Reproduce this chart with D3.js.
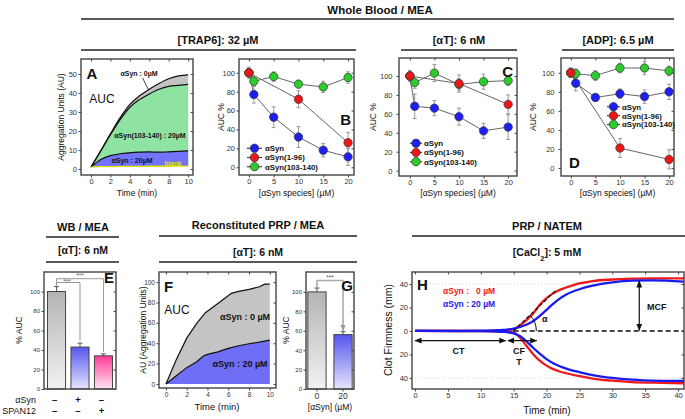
<!DOCTYPE html>
<html><head><meta charset="utf-8">
<script src="https://cdn.jsdelivr.net/npm/d3@7"></script>
<style>body{margin:0;background:#fff}svg{font-family:"Liberation Sans",Arial,Helvetica,sans-serif}</style>
</head><body><svg id="c" width="685" height="419" xmlns="http://www.w3.org/2000/svg"></svg>
<script>
// ---------------- DATA ----------------
// Panel A (Whole blood, TRAP6) aggregation curves
const timeA = [0, 1, 2, 3, 4, 5, 6, 7, 8, 9, 10];
const aSyn0A = [1, 9.5, 18.5, 27, 34, 38.5, 42, 45, 47.5, 49, 49.5];
const aSyn103A = [1, 9.5, 18, 26, 32.5, 36.5, 39.5, 42, 43.5, 44, 44.5];
const aSyn20A = [1, 5, 7, 8, 8.5, 8.8, 9, 8.8, 9, 9.2, 9.5];
const blankA = [1, 1.2, 1.2, 1.3, 1.3, 1.3, 1.4, 1.4, 1.4, 1.5, 1.5];
// Dose-response panels (B, C, D)
const conc = [0, 1, 5, 10, 15, 20];
const concTrunc = [0, 10, 20];
const seriesNames = ["αSyn", "αSyn(1-96)", "αSyn(103-140)"];
const B_aSyn = [100, 77, 53, 32, 18, 11];
const B_aSynErr = [0, 9, 11, 11, 7, 9];
const B_1_96 = [100, 72, 26];
const B_1_96Err = [6, 9, 11];
const B_103 = [100, 91, 96, 88, 85, 95];
const B_103Err = [0, 5, 5, 4, 6, 6];
const C_aSyn = [100, 68, 66, 57, 42, 46];
const C_aSynErr = [0, 13, 8, 9, 8, 13];
const C_1_96 = [100, 92, 70];
const C_1_96Err = [6, 9, 10];
const C_103 = [100, 93, 103, 91, 94, 95];
const C_103Err = [0, 6, 9, 6, 8, 5];
const D_aSyn = [100, 89, 74, 78, 75, 80];
const D_aSynErr = [0, 8, 4, 5, 7, 8];
const D_1_96 = [100, 21, 9];
const D_1_96Err = [5, 10, 10];
const D_103 = [100, 99, 97, 105, 105, 102];
const D_103Err = [5, 5, 5, 5, 7, 5];
// Panel E (WB / MEA bars)
const E_labels = ["ctrl", "aSyn", "SPAN12"];
const E_values = [100, 43, 34];
const E_err = [5, 4, 2];
const E_aSynSign = ["–", "+", "–"];
const E_spanSign = ["–", "–", "+"];
// Panel F (reconstituted PRP curves)
const timeF0 = [0, 1, 2, 3, 3.8, 5, 6.3, 7, 8, 9, 9.5, 10];
const aSyn0F = [0, 24, 45, 60, 70, 79, 89, 91, 93, 95.5, 98, 98];
const timeF20 = [0, 1, 2, 3, 3.6, 4, 5, 6, 7, 8, 9, 10];
const aSyn20F = [0, 8, 16, 22, 27.5, 29, 31.5, 35, 37.5, 39.5, 41, 43];
// Panel G bars
const G_labels = ["0", "20"];
const G_values = [100, 56];
const G_err = [4, 3];
// Panel H (NATEM clot firmness)
const timeH = [0, 10, 12, 13, 14, 15, 16, 17, 18, 19, 20, 21, 22, 23, 25, 27, 30, 33, 36, 41];
const redUpH = [0, 0.1, 0.3, 0.5, 0.8, 1.5, 5, 9.5, 15, 22.5, 28, 32, 35, 37, 40.5, 42.5, 43.8, 44.5, 44.8, 44.8];
const blueUpH = [0, 0.2, 0.5, 0.8, 1.2, 2, 3.5, 5.5, 8.5, 13, 18, 23, 27.5, 31, 35.5, 38.5, 41.3, 42.8, 43, 42];
const redLoH = [0, -0.1, -0.3, -0.5, -0.8, -1.5, -6, -13, -20, -25.5, -29.5, -32.5, -34.5, -36, -38.5, -40.5, -42.3, -43.5, -44, -44.5];
const blueLoH = [0, -0.2, -0.4, -0.7, -1, -2, -4.5, -9, -14.5, -19.5, -24, -27.5, -30, -32, -35, -37.5, -40, -41.5, -42.3, -42.5];

// ---------------- HELPERS ----------------
const svg = d3.select("#c");
const defs = svg.append("defs");
let clipN = 0;
const FRAME = "#444";

defs.append("marker").attr("id", "arr").attr("viewBox", "0 0 10 10").attr("refX", 9).attr("refY", 5)
  .attr("markerWidth", 6).attr("markerHeight", 6).attr("orient", "auto-start-reverse")
  .append("path").attr("d", "M0,1 L10,5 L0,9 z").attr("fill", "#111");
defs.append("marker").attr("id", "arrG").attr("viewBox", "0 0 10 10").attr("refX", 9).attr("refY", 5)
  .attr("markerWidth", 4).attr("markerHeight", 4).attr("orient", "auto-start-reverse")
  .append("path").attr("d", "M0,1 L10,5 L0,9 z").attr("fill", "#999");

function grad(id, top, bottom) {
  const g = defs.append("linearGradient").attr("id", id).attr("x1", 0).attr("y1", 0).attr("x2", 0).attr("y2", 1);
  g.append("stop").attr("offset", "0%").attr("stop-color", top);
  g.append("stop").attr("offset", "100%").attr("stop-color", bottom);
}
grad("gGray", "#b4b4b4", "#f2f2f2");
grad("gBlue", "#5555ee", "#e6e6ff");
grad("gPink", "#ff3a99", "#ffe6f2");

function text(x, y, s, o = {}) {
  const t = svg.append("text").attr("x", x).attr("y", y).text(s)
    .attr("font-size", o.size || 10).attr("fill", o.fill || "#111")
    .attr("text-anchor", o.anchor || "start").attr("xml:space", "preserve");
  if (o.bold) t.attr("font-weight", "bold");
  if (o.rotate) t.attr("transform", `rotate(-90,${x},${y})`);
  return t;
}
function hline(x0, x1, y, w = 1.5) {
  svg.append("line").attr("x1", x0).attr("x2", x1).attr("y1", y).attr("y2", y)
    .attr("stroke", "#222").attr("stroke-width", w);
}
function styleAxis(s, fs) {
  s.select(".domain").remove();
  s.selectAll(".tick line").attr("stroke", FRAME);
  s.selectAll(".tick text").attr("font-size", fs).attr("fill", "#333");
}
function panel(box, xd, yd) {
  const x = d3.scaleLinear().domain(xd).range([box.x0, box.x1]);
  const y = d3.scaleLinear().domain(yd).range([box.y1, box.y0]);
  const id = "clip" + (++clipN);
  defs.append("clipPath").attr("id", id).append("rect")
    .attr("x", box.x0).attr("y", box.y0).attr("width", box.x1 - box.x0).attr("height", box.y1 - box.y0);
  const g = svg.append("g");
  const plot = g.append("g").attr("clip-path", `url(#${id})`);
  return { box, x, y, g, plot };
}
function axes(p, xt, yt, o = {}) {
  const fs = o.fs || 7.5;
  const yp = o.ypad == null ? 1.5 : o.ypad;
  const b = p.box;
  const ag = svg.append("g");
  if (xt) {
    ag.append("g").attr("transform", `translate(0,${b.y1})`)
      .call(d3.axisBottom(p.x).tickValues(xt).tickSize(2.5).tickPadding(1.5).tickFormat(o.xf || d3.format("d")))
      .call(s => styleAxis(s, o.xfs || fs));
    ag.append("g").attr("transform", `translate(0,${b.y0})`)
      .call(d3.axisTop(p.x).tickValues(xt).tickSize(-2.5).tickFormat(""))
      .call(s => styleAxis(s, fs));
  }
  ag.append("g").attr("transform", `translate(${b.x0},0)`)
    .call(d3.axisLeft(p.y).tickValues(yt).tickSize(2.5).tickPadding(yp).tickFormat(o.yf || d3.format("d")))
    .call(s => styleAxis(s, fs));
  ag.append("g").attr("transform", `translate(${b.x1},0)`)
    .call(d3.axisRight(p.y).tickValues(yt).tickSize(-2.5).tickFormat(""))
    .call(s => styleAxis(s, fs));
  ag.append("rect").attr("x", b.x0).attr("y", b.y0).attr("width", b.x1 - b.x0).attr("height", b.y1 - b.y0)
    .attr("fill", "none").attr("stroke", FRAME).attr("stroke-width", 1.4);
}

// ---------------- HEADERS ----------------
text(380, 14, "Whole Blood / MEA", { bold: true, size: 11.5, anchor: "middle" });
hline(81, 674, 19);
text(218, 44, "[TRAP6]: 32 µM", { bold: true, size: 11, anchor: "middle" });
hline(81, 356, 50);
text(459, 44, "[αT]: 6 nM", { bold: true, size: 11, anchor: "middle" });
hline(401, 517, 50);
text(618, 44, "[ADP]: 6.5 µM", { bold: true, size: 11, anchor: "middle" });
hline(562, 674, 50);

text(83, 231, "WB / MEA", { bold: true, size: 11, anchor: "middle" });
hline(46, 119, 237);
text(83, 254, "[αT]: 6 nM", { bold: true, size: 10.5, anchor: "middle" });
hline(46, 119, 262);
text(258, 229, "Reconstituted PRP / MEA", { bold: true, size: 11, anchor: "middle" });
hline(159, 357, 236);
text(258, 256, "[αT]: 6 nM", { bold: true, size: 10.5, anchor: "middle" });
hline(159, 357, 262);
text(547, 230, "PRP / NATEM", { bold: true, size: 11, anchor: "middle" });
hline(412, 685, 236);
const cacl = text(547, 256, "[CaCl", { bold: true, size: 10.5, anchor: "middle" });
cacl.append("tspan").attr("baseline-shift", "sub").attr("font-size", 7.5).text("2");
cacl.append("tspan").text("]: 5 mM");

// ---------------- PANEL A ----------------
{
  const p = panel({ x0: 81, x1: 193, y0: 59, y1: 175 }, [-1.03, 10.5], [-3.2, 57.9]);
  const mk = (arr) => d3.area().x((d, i) => p.x(timeA[i])).y0((d, i) => p.y(blankA[i])).y1(d => p.y(d)).curve(d3.curveMonotoneX)(arr);
  const ln = (arr) => d3.line().x((d, i) => p.x(timeA[i])).y(d => p.y(d)).curve(d3.curveMonotoneX)(arr);
  p.plot.append("path").attr("d", mk(aSyn0A)).attr("fill", "#c3c3c3");
  p.plot.append("path").attr("d", mk(aSyn103A)).attr("fill", "#8fe3a2");
  p.plot.append("path").attr("d", mk(aSyn20A)).attr("fill", "#7272fa");
  [aSyn0A, aSyn103A, aSyn20A].forEach(a => p.plot.append("path").attr("d", ln(a)).attr("fill", "none").attr("stroke", "#111").attr("stroke-width", 1.2));
  p.plot.append("path").attr("d", ln(blankA)).attr("fill", "none").attr("stroke", "#e6e000").attr("stroke-width", 1.3);
  axes(p, [0, 2, 4, 6, 8, 10], [0, 10, 20, 30, 40, 50]);
  text(92, 79, "A", { bold: true, size: 15, anchor: "middle" });
  text(102, 103, "AUC", { size: 12, anchor: "middle" });
  text(139, 75.5, "αSyn : 0µM", { bold: true, size: 7, anchor: "middle" });
  svg.append("line").attr("x1", 142.7).attr("y1", 78).attr("x2", 148.5).attr("y2", 90).attr("stroke", "#111").attr("stroke-width", 0.8);
  text(150, 138, "αSyn(103-140) : 20µM", { bold: true, size: 7, anchor: "middle" });
  text(132, 162.5, "αSyn : 20µM", { bold: true, size: 7, anchor: "middle" });
  text(173, 166, "blank", { bold: true, size: 6.5, anchor: "middle", fill: "#e8e000" });
  text(64, 117, "Aggregation Units (AU)", { size: 8.5, anchor: "middle", rotate: true });
  text(137, 195.5, "Time (min)", { size: 8.5, anchor: "middle" });
}

// ---------------- DOSE-RESPONSE PANELS ----------------
const COLS = { blue: "#1e1ef5", red: "#ee1616", green: "#2bcc2b" };
function doseLine(p, xs, vals, errs) {
  const pts = xs.map((c, i) => [c, vals[i], errs[i]]);
  p.plot.append("path").attr("d", d3.line().x(d => p.x(d[0])).y(d => p.y(d[1]))(pts))
    .attr("fill", "none").attr("stroke", "#666").attr("stroke-width", 1);
  return pts;
}
function doseErr(p, pts) {
  pts.forEach(d => {
    if (!d[2]) return;
    const cx = p.x(d[0]), y0 = p.y(d[1] - d[2]), y1 = p.y(d[1] + d[2]);
    p.plot.append("line").attr("x1", cx).attr("x2", cx).attr("y1", y0).attr("y2", y1).attr("stroke", "#999").attr("stroke-width", 1);
    [y0, y1].forEach(yy => p.plot.append("line").attr("x1", cx - 2).attr("x2", cx + 2).attr("y1", yy).attr("y2", yy).attr("stroke", "#999").attr("stroke-width", 1));
  });
}
function doseDots(p, pts, col) {
  pts.forEach(d => p.plot.append("circle").attr("cx", p.x(d[0])).attr("cy", p.y(d[1])).attr("r", 4.2)
    .attr("fill", col).attr("stroke", "#333").attr("stroke-width", 0.7));
}
function dosePanel(box, yd, data, leg, letter, ypad, titleX) {
  const p = panel(box, [box.xl, box.xr], yd);
  const b = doseLine(p, conc, data[0], data[1]);
  const g = doseLine(p, conc, data[4], data[5]);
  const r = doseLine(p, concTrunc, data[2], data[3]);
  doseErr(p, b); doseErr(p, g); doseErr(p, r);
  doseDots(p, b, COLS.blue); doseDots(p, g, COLS.green); doseDots(p, r, COLS.red);
  axes(p, [0, 5, 10, 15, 20], [0, 20, 40, 60, 80, 100], { ypad });
  const cols = [COLS.blue, COLS.red, COLS.green];
  leg.ys.forEach((yy, i) => {
    svg.append("line").attr("x1", leg.l0).attr("x2", leg.l1).attr("y1", yy).attr("y2", yy).attr("stroke", "#444").attr("stroke-width", 1.2);
    svg.append("circle").attr("cx", (leg.l0 + leg.l1) / 2).attr("cy", yy).attr("r", 4.2).attr("fill", cols[i]).attr("stroke", "#333").attr("stroke-width", 0.7);
    text(leg.tx, yy + 2.8, seriesNames[i], { bold: true, size: 7.8 });
  });
  text(letter.x, letter.y, letter.s, { bold: true, size: 15, anchor: letter.anchor });
  text(titleX, (box.y0 + box.y1) / 2, "AUC %", { size: 8.5, anchor: "middle", rotate: true });
  text((box.x0 + box.x1) / 2, 195.5, "[αSyn species] (µM)", { size: 8.5, anchor: "middle" });
  return p;
}
dosePanel({ x0: 239, x1: 354, y0: 59, y1: 175, xl: -2.0, xr: 21.2 }, [-8.2, 114.6],
  [B_aSyn, B_aSynErr, B_1_96, B_1_96Err, B_103, B_103Err],
  { ys: [148.3, 157.5, 166.7], l0: 247, l1: 262, tx: 265 }, { x: 351, y: 125, s: "B", anchor: "end" }, 1.5, 224);
dosePanel({ x0: 399, x1: 517, y0: 58, y1: 176, xl: -2.2, xr: 21.8 }, [-5.7, 119],
  [C_aSyn, C_aSynErr, C_1_96, C_1_96Err, C_103, C_103Err],
  { ys: [143.3, 152.5, 161.7], l0: 410, l1: 422, tx: 424 }, { x: 513, y: 77, s: "C", anchor: "end" }, 4, 376);
dosePanel({ x0: 561, x1: 674, y0: 58, y1: 176, xl: -2.0, xr: 21.0 }, [-8.4, 115.5],
  [D_aSyn, D_aSynErr, D_1_96, D_1_96Err, D_103, D_103Err],
  { ys: [106.7, 115.7, 124.5], l0: 607, l1: 620, tx: 622 }, { x: 569, y: 168, s: "D", anchor: "start" }, 4, 536);

// ---------------- PANEL E ----------------
{
  const box = { x0: 44, x1: 116, y0: 272, y1: 389 };
  const xb = d3.scaleBand().domain(E_labels).range([box.x0, box.x1]).paddingInner(0.23).paddingOuter(0.15);
  const y = d3.scaleLinear().domain([0, 120]).range([box.y1, box.y0]);
  const fills = ["url(#gGray)", "url(#gBlue)", "url(#gPink)"];
  E_labels.forEach((l, i) => {
    const cx = xb(l) + xb.bandwidth() / 2;
    svg.append("line").attr("x1", cx).attr("x2", cx).attr("y1", y(E_values[i])).attr("y2", y(E_values[i] + E_err[i])).attr("stroke", "#555");
    svg.append("line").attr("x1", cx - 2.5).attr("x2", cx + 2.5).attr("y1", y(E_values[i] + E_err[i])).attr("y2", y(E_values[i] + E_err[i])).attr("stroke", "#555");
    svg.append("rect").attr("x", xb(l)).attr("y", y(E_values[i])).attr("width", xb.bandwidth()).attr("height", y(0) - y(E_values[i]))
      .attr("fill", fills[i]).attr("stroke", "#444").attr("stroke-width", 1);
    text(cx - 2, 403, E_aSynSign[i], { bold: true, size: 9.5, anchor: "middle" });
    text(cx - 2, 414, E_spanSign[i], { bold: true, size: 9.5, anchor: "middle" });
  });
  const c = i => xb(E_labels[i]) + xb.bandwidth() / 2;
  const br = (yy, j) => {
    svg.append("path").attr("d", `M${c(0)},${y(E_values[0] + E_err[0]) - 1} V${yy} H${c(j)} V${y(E_values[j] + E_err[j]) - 2}`)
      .attr("fill", "none").attr("stroke", "#999").attr("stroke-width", 1);
  };
  br(278.7, 2); br(282.5, 1);
  text(80, 277.5, "***", { size: 6.5, anchor: "middle", fill: "#666" });
  text(67, 284.3, "***", { size: 6.5, anchor: "middle", fill: "#666" });
  const p = { box, x: d3.scaleLinear().domain([0, 1]).range([box.x0, box.x1]), y };
  axes(p, null, [0, 20, 40, 60, 80, 100], { fs: 6 });
  text(114, 283, "E", { bold: true, size: 15, anchor: "end" });
  text(22, 330, "% AUC", { size: 8.5, anchor: "middle", rotate: true });
  text(36, 403, "αSyn", { size: 9, anchor: "end" });
  text(36, 414, "SPAN12", { size: 9, anchor: "end" });
}

// ---------------- PANEL F ----------------
{
  const p = panel({ x0: 159, x1: 276, y0: 272, y1: 388 }, [-0.67, 10.6], [-4, 110]);
  const ar = (t, v) => d3.area().x((d, i) => p.x(t[i])).y0(p.y(0)).y1(d => p.y(d)).curve(d3.curveLinear)(v);
  const ln = (t, v) => d3.line().x((d, i) => p.x(t[i])).y(d => p.y(d))(v);
  p.plot.append("path").attr("d", ar(timeF0, aSyn0F)).attr("fill", "#c4c4c4");
  p.plot.append("path").attr("d", ar(timeF20, aSyn20F)).attr("fill", "#6e6ef7");
  p.plot.append("path").attr("d", ln(timeF0, aSyn0F)).attr("fill", "none").attr("stroke", "#111").attr("stroke-width", 1.2);
  p.plot.append("path").attr("d", ln(timeF20, aSyn20F)).attr("fill", "none").attr("stroke", "#111").attr("stroke-width", 1.2);
  axes(p, [0, 2, 4, 6, 8, 10], [0, 20, 40, 60, 80, 100], { fs: 6.5 });
  text(164, 292, "F", { bold: true, size: 15 });
  text(177, 314, "AUC", { size: 12, anchor: "middle" });
  text(245, 320, "αSyn : 0 µM", { bold: true, size: 9, anchor: "middle" });
  text(240, 367, "αSyn : 20 µM", { bold: true, size: 9, anchor: "middle" });
  text(146, 330, "AU (Aggregation Units)", { size: 8.5, anchor: "middle", rotate: true });
  text(217, 410, "Time (min)", { size: 9.5, anchor: "middle" });
}

// ---------------- PANEL G ----------------
{
  const box = { x0: 306, x1: 354, y0: 272, y1: 389 };
  const xb = d3.scaleBand().domain(G_labels).range([box.x0, box.x1]).paddingInner(0.3).paddingOuter(0.07);
  const y = d3.scaleLinear().domain([0, 120.5]).range([box.y1, box.y0]);
  const fills = ["url(#gGray)", "url(#gBlue)"];
  G_labels.forEach((l, i) => {
    const cx = xb(l) + xb.bandwidth() / 2;
    svg.append("line").attr("x1", cx).attr("x2", cx).attr("y1", y(G_values[i])).attr("y2", y(G_values[i] + G_err[i])).attr("stroke", "#555");
    svg.append("line").attr("x1", cx - 2.5).attr("x2", cx + 2.5).attr("y1", y(G_values[i] + G_err[i])).attr("y2", y(G_values[i] + G_err[i])).attr("stroke", "#555");
    svg.append("rect").attr("x", xb(l)).attr("y", y(G_values[i])).attr("width", xb.bandwidth()).attr("height", y(0) - y(G_values[i]))
      .attr("fill", fills[i]).attr("stroke", "#444").attr("stroke-width", 1);
  });
  const c = i => xb(G_labels[i]) + xb.bandwidth() / 2;
  svg.append("path").attr("d", `M${c(0)},${y(G_values[0] + G_err[0]) - 1} V280.5 H${c(1)} V${y(G_values[1] + G_err[1]) - 1}`)
    .attr("fill", "none").attr("stroke", "#aaa").attr("stroke-width", 1.6).attr("marker-end", "url(#arrG)");
  text(330, 280, "***", { size: 6.5, anchor: "middle", fill: "#555" });
  const p = { box, x: d3.scaleLinear().domain([0, 1]).range([box.x0, box.x1]), y };
  axes(p, null, [0, 20, 40, 60, 80, 100], { fs: 6 });
  svg.append("g").attr("transform", `translate(0,${box.y1})`)
    .call(d3.axisBottom(xb).tickSize(2.5).tickPadding(1)).call(s => styleAxis(s, 8.5));
  text(353, 291, "G", { bold: true, size: 15, anchor: "end" });
  text(289, 330, "% AUC", { size: 8.5, anchor: "middle", rotate: true });
  text(330, 410, "[αSyn] (µM)", { size: 8.5, anchor: "middle" });
}

// ---------------- PANEL H ----------------
{
  const p = panel({ x0: 412, x1: 684, y0: 272, y1: 389 }, [-0.46, 40.9], [-49.4, 50.2]);
  [40, -40].forEach(v => p.plot.append("line").attr("x1", p.x(0)).attr("x2", p.x(41)).attr("y1", p.y(v)).attr("y2", p.y(v))
    .attr("stroke", "#ccc").attr("stroke-dasharray", "1,2").attr("stroke-width", 0.8));
  const ln = v => d3.line().x((d, i) => p.x(timeH[i])).y(d => p.y(d)).curve(d3.curveMonotoneX)(v);
  [[redUpH, "#ee1a1a"], [redLoH, "#ee1a1a"], [blueUpH, "#1a1aee"], [blueLoH, "#1a1aee"]].forEach(([v, c]) =>
    p.plot.append("path").attr("d", ln(v)).attr("fill", "none").attr("stroke", c).attr("stroke-width", 2.3));
  // annotations
  p.plot.append("line").attr("x1", p.x(15)).attr("x2", p.x(41)).attr("y1", p.y(0)).attr("y2", p.y(0))
    .attr("stroke", "#111").attr("stroke-width", 1.4).attr("stroke-dasharray", "5,3");
  svg.append("line").attr("x1", p.x(14.95)).attr("y1", p.y(0)).attr("x2", p.x(21.4)).attr("y2", p.y(34.5))
    .attr("stroke", "#111").attr("stroke-width", 1.2).attr("stroke-dasharray", "4,2");
  const r = 23, a = Math.atan2(p.y(0) - p.y(34.5), p.x(21.4) - p.x(14.95));
  svg.append("path").attr("d", `M${p.x(14.95) + r},${p.y(0)} A${r},${r} 0 0 0 ${p.x(14.95) + r * Math.cos(a)},${p.y(0) - r * Math.sin(a)}`)
    .attr("fill", "none").attr("stroke", "#111").attr("stroke-width", 1);
  text(542, 322, "α", { bold: true, size: 9 });
  svg.append("line").attr("x1", p.x(34.1)).attr("x2", p.x(34.1)).attr("y1", p.y(0.5)).attr("y2", p.y(42.5))
    .attr("stroke", "#111").attr("stroke-width", 1.2).attr("marker-start", "url(#arr)").attr("marker-end", "url(#arr)");
  text(647, 310, "MCF", { bold: true, size: 9 });
  svg.append("line").attr("x1", p.x(0)).attr("x2", p.x(13.8)).attr("y1", p.y(-8.2)).attr("y2", p.y(-8.2))
    .attr("stroke", "#111").attr("stroke-width", 1.2).attr("marker-start", "url(#arr)").attr("marker-end", "url(#arr)");
  svg.append("line").attr("x1", p.x(14.1)).attr("x2", p.x(18.5)).attr("y1", p.y(-8.2)).attr("y2", p.y(-8.2))
    .attr("stroke", "#111").attr("stroke-width", 1.2).attr("marker-start", "url(#arr)").attr("marker-end", "url(#arr)");
  text(p.x(6.6), 354, "CT", { bold: true, size: 9, anchor: "middle" });
  text(p.x(15.8), 353.5, "CF", { bold: true, size: 9, anchor: "middle" });
  text(p.x(15.8), 365, "T", { bold: true, size: 9, anchor: "middle" });
  axes(p, [0, 5, 10, 15, 20, 25, 30, 35, 40], [-40, -20, 0, 20, 40], { fs: 7.5, yf: d => Math.abs(d) });
  text(417, 290, "H", { bold: true, size: 15 });
  text(443, 293.5, "αSyn :\u00a0\u00a0 0 µM", { bold: true, size: 8.5, fill: "#ee1a1a" });
  text(443, 306.5, "αSyn : 20 µM", { bold: true, size: 8.5, fill: "#1a1aee" });
  text(392, 330, "Clot Firmness (mm)", { size: 10.5, anchor: "middle", rotate: true });
  text(547, 414, "Time (min)", { size: 10, anchor: "middle" });
}
</script></body></html>
